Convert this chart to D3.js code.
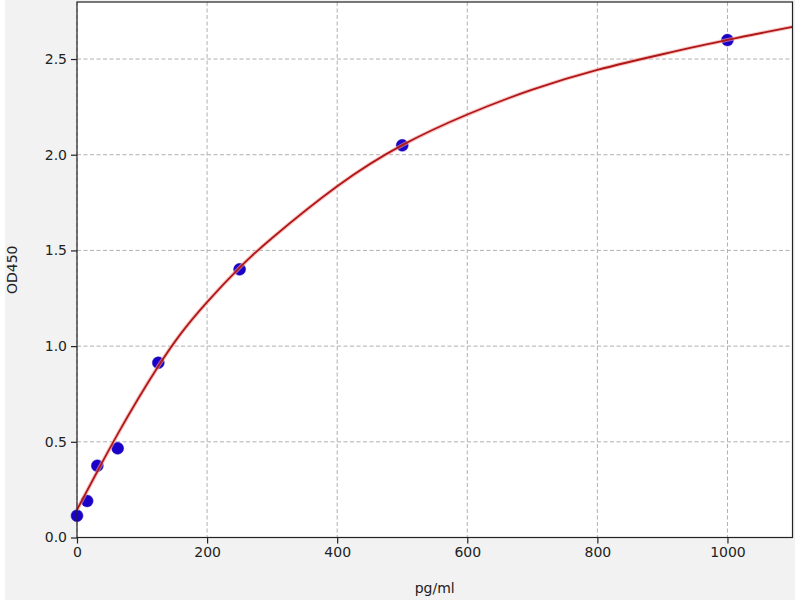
<!DOCTYPE html>
<html><head><meta charset="utf-8">
<script src="https://cdn.jsdelivr.net/npm/d3@7"></script>
<style>
html,body{margin:0;padding:0;background:#fff;}
svg{display:block;}
text{font-family:"DejaVu Sans",sans-serif;}
</style></head>
<body>
<svg id="chart" width="800" height="600"></svg>
<script>
// Standard points (concentration pg/ml, OD450)
const concentrations = [0, 15.6, 31.25, 62.5, 125, 250, 500, 1000];
const odValues = [0.114, 0.191, 0.375, 0.466, 0.913, 1.401, 2.049, 2.599];
// Fitted curve
const curveX = [0, 31.25, 62.5, 94, 125, 158.5, 200, 250, 300, 400, 500, 600, 700, 800, 900, 1000, 1100];
const curveY = [0.145, 0.345, 0.54, 0.725, 0.895, 1.06, 1.23, 1.41, 1.565, 1.835, 2.05, 2.21, 2.34, 2.443, 2.525, 2.600, 2.668];
const xTicks = [0, 200, 400, 600, 800, 1000];
const yTicks = [0.0, 0.5, 1.0, 1.5, 2.0, 2.5];
const xLabel = "pg/ml";
const yLabel = "OD450";

const svg = d3.select("#chart");
const pLeft = 77, pRight = 792.5, pTop = 2, pBottom = 537.5;

svg.append("rect").attr("x", 5).attr("y", 0).attr("width", 790).attr("height", 600).attr("fill", "#f2f2f2");
svg.append("rect").attr("x", pLeft).attr("y", pTop).attr("width", pRight - pLeft).attr("height", pBottom - pTop).attr("fill", "#ffffff");

const x = d3.scaleLinear().domain([0, 1100]).range([pLeft, pRight]);
const y = d3.scaleLinear().domain([0, 2.798]).range([pBottom, pTop]);

// grid
const g = svg.append("g");
g.selectAll("line.gx").data(xTicks).enter().append("line")
  .attr("x1", d => x(d)).attr("x2", d => x(d)).attr("y1", pTop).attr("y2", pBottom)
  .attr("stroke", "#b0b0b0").attr("stroke-width", 1).attr("stroke-dasharray", "4,2.5");
g.selectAll("line.gy").data(yTicks).enter().append("line")
  .attr("y1", d => y(d)).attr("y2", d => y(d)).attr("x1", pLeft).attr("x2", pRight)
  .attr("stroke", "#b0b0b0").attr("stroke-width", 1).attr("stroke-dasharray", "4,2.5");

// points
svg.append("g").selectAll("circle").data(concentrations).enter().append("circle")
  .attr("cx", (d) => x(d)).attr("cy", (d, i) => y(odValues[i])).attr("r", 6)
  .attr("fill", "#1a00c8").attr("stroke", "#2b1fb0").attr("stroke-width", 0.5);

// curve
const line = d3.line().x(d => x(d[0])).y(d => y(d[1])).curve(d3.curveNatural);
const pts = curveX.map((v, i) => [v, curveY[i]]);
svg.append("path").attr("d", line(pts)).attr("fill", "none")
  .attr("stroke", "#f4a0a0").attr("stroke-width", 4).attr("stroke-opacity", 0.6);
svg.append("path").attr("d", line(pts)).attr("fill", "none")
  .attr("stroke", "#b01818").attr("stroke-width", 1.8);

// frame
svg.append("rect").attr("x", pLeft).attr("y", pTop).attr("width", pRight - pLeft).attr("height", pBottom - pTop)
  .attr("fill", "none").attr("stroke", "#222").attr("stroke-width", 1.2);

// axes
const xAxis = d3.axisBottom(x).tickValues(xTicks).tickFormat(d3.format("d")).tickSize(6).tickPadding(4);
const yAxis = d3.axisLeft(y).tickValues(yTicks).tickFormat(d3.format(".1f")).tickSize(6).tickPadding(4);
const gx = svg.append("g").attr("transform", `translate(0,${pBottom})`).call(xAxis);
const gy = svg.append("g").attr("transform", `translate(${pLeft},0)`).call(yAxis);
[gx, gy].forEach(a => {
  a.select(".domain").remove();
  a.selectAll("line").attr("stroke", "#222").attr("stroke-width", 1.2);
  a.selectAll("text").attr("fill", "#222").style("font-size", "14px").style("font-family", "DejaVu Sans, sans-serif");
});

svg.append("text").attr("x", (pLeft + pRight) / 2).attr("y", 593).attr("text-anchor", "middle")
  .style("font-size", "14px").attr("fill", "#222").text(xLabel);
svg.append("text").attr("transform", `translate(17,${(pTop + pBottom) / 2}) rotate(-90)`).attr("text-anchor", "middle")
  .style("font-size", "14px").attr("fill", "#222").text(yLabel);
</script>
</body></html>
